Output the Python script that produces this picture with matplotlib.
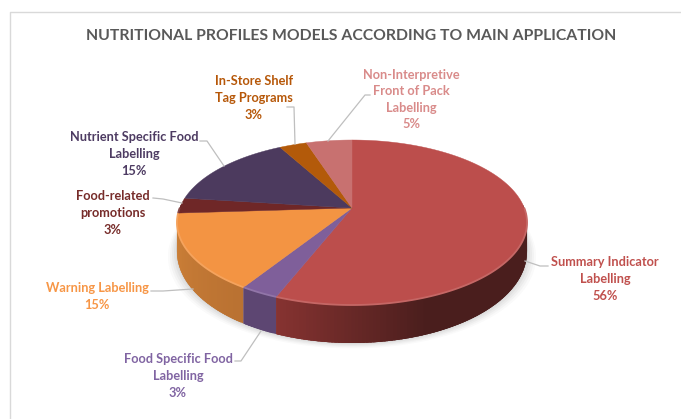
import numpy as np
import matplotlib
matplotlib.use("Agg")
import matplotlib.pyplot as plt
from matplotlib.colors import to_rgb
from matplotlib.patches import Polygon

plt.rcParams['font.family'] = ['Lato', 'DejaVu Sans']

title = "NUTRITIONAL PROFILES MODELS ACCORDING TO MAIN APPLICATION"
categories = ["Summary Indicator\nLabelling", "Food Specific Food\nLabelling", "Warning Labelling",
              "Food-related\npromotions", "Nutrient Specific Food\nLabelling",
              "In-Store Shelf\nTag Programs", "Non-Interpretive\nFront of Pack\nLabelling"]
shares = [56, 3, 15, 3, 15, 3, 5]
face_colors = ["#BC4E4C", "#7F5F9A", "#F39443", "#6F2727", "#4C3A5E", "#B35A0A", "#C87170"]
text_colors = ["#C0504D", "#8064A2", "#F79646", "#772C2A", "#4D3B62", "#B65708", "#D98B8A"]
side_near = ["#8A3432", "#5D4672", "#D08238", "#5A2020", "#3A2C48", "#8A4408", "#9A5554"]
side_far = ["#4A1E1D", "#5D4672", "#BA7232", "#5A2020", "#3A2C48", "#8A4408", "#9A5554"]

# Disc projection in pixel space
CX, CY, RADIUS, VSCALE, TILT = 352.0, 208.0, 172.3, 79.95, 0.1758
DEPTH_SIDE, DEPTH_FRONT = 27.0, 38.0


def project(theta):
    u, v = np.sin(theta), np.cos(theta)
    w = 1 + TILT * v
    return CX + RADIUS * u / w, CY - VSCALE * v / w


def depth(theta):
    return DEPTH_SIDE - (DEPTH_FRONT - DEPTH_SIDE) * np.cos(theta)


fig = plt.figure(figsize=(6.81, 4.19), dpi=100, facecolor="white")
ax = fig.add_axes([0, 0, 1, 1])
ax.set_xlim(0, 681)
ax.set_ylim(419, 0)
ax.axis("off")

# Chart frame
ax.plot([9.5, 9.5, 681], [419, 12.5, 12.5], color="#D9D9D9", lw=1.0, zorder=1)

ax.text(351, 35.5, title, ha="center", va="center", fontsize=11.3, fontweight="bold",
        color="#595959", zorder=10)

edges = 2 * np.pi * np.concatenate([[0], np.cumsum(shares)]) / sum(shares)

# Soft drop shadow beneath the disc
ring = np.linspace(0, 2 * np.pi, 240)
rx, ry = project(ring)
for grow, alpha in zip([9, 7, 5, 3, 1], [0.03, 0.04, 0.05, 0.06, 0.08]):
    ax.add_patch(Polygon(np.c_[CX + (rx - CX) * (1 + grow / 175), ry + depth(ring) + grow * 0.6],
                         closed=True, fc="#606060", ec="none", alpha=alpha, zorder=2))

# Side wall: overlapping strips painted in order give a smooth gradient without seams
for i in range(len(shares)):
    a0, a1 = edges[i], edges[i + 1]
    lo, hi = max(a0, np.pi / 2 - 0.05), min(a1, 3 * np.pi / 2 + 0.05)
    if hi <= lo:
        continue
    cuts = np.linspace(lo, hi, max(4, int((hi - lo) * 60)))
    near, far = np.array(to_rgb(side_near[i])), np.array(to_rgb(side_far[i]))
    # Walk from the segment's far end towards its near end, finishing at its true boundary
    for t0, t1 in zip(cuts[::-1][1:], cuts[::-1][:-1]):
        mix = np.clip((a1 - t0) / (a1 - a0) * 4.5, 0, 1) if i == 0 else (a1 - t0) / (a1 - a0)
        tail = min(t1 + 0.03, hi)
        x0, y0 = project(t0)
        x1, y1 = project(np.array([t1, tail]))
        dep = depth(np.array([t1, tail]))
        ax.add_patch(Polygon([(x0, y0), (x1[0], y1[0]), (x1[1], y1[1]),
                              (x1[1], y1[1] + dep[1]), (x1[0], y1[0] + dep[0]),
                              (x0, y0 + depth(t0))],
                             closed=True, fc=near * (1 - mix) + far * mix, ec="none",
                             zorder=3 + 0.1 * (len(shares) - i) / len(shares)))

# Top face wedges
for i in range(len(shares)):
    arc = np.linspace(edges[i], edges[i + 1], 120)
    ax_, ay_ = project(arc)
    ax.add_patch(Polygon(np.vstack([[CX, CY], np.c_[ax_, ay_]]), closed=True,
                         fc=face_colors[i], ec=face_colors[i], lw=0.3, zorder=4))

# Light bevel along the front rim
for i in range(len(shares)):
    lo, hi = max(edges[i], np.pi / 2), min(edges[i + 1], 3 * np.pi / 2)
    if hi <= lo:
        continue
    arc = np.linspace(lo, hi, 100)
    bx, by = project(arc)
    rim = np.array(to_rgb(face_colors[i]))
    ax.plot(bx, by, color=rim + (1 - rim) * 0.14, lw=1.3, zorder=5, solid_capstyle="butt")

# Leader lines
leaders = [
    [(525, 261), (540, 266), (548, 266)],
    [(235, 361), (241, 361), (261, 331)],
    [(151, 291), (163, 291), (193, 289)],
    [(153, 198), (163, 199), (182, 203)],
    [(200, 141), (207, 141), (224, 166)],
    [(287, 107), (294, 107), (295, 144)],
    [(370, 95), (365, 95), (328, 141)],
]
for pts in leaders:
    xs, ys = zip(*pts)
    ax.plot(xs, ys, color="#BFBFBF", lw=0.9, zorder=6)

# Category labels with their percentage on the last line
anchors = [(605, 279), (178, 376), (97, 296.5), (113, 213), (134, 154), (254, 98), (411, 99.5)]
for name, share, colour, (lx, ly) in zip(categories, shares, text_colors, anchors):
    ax.text(lx, ly, f"{name}\n{share}%", ha="center", va="center", fontsize=9.2,
            fontweight="bold", color=colour, linespacing=1.46, zorder=10)

fig.savefig("out.png", dpi=100)
